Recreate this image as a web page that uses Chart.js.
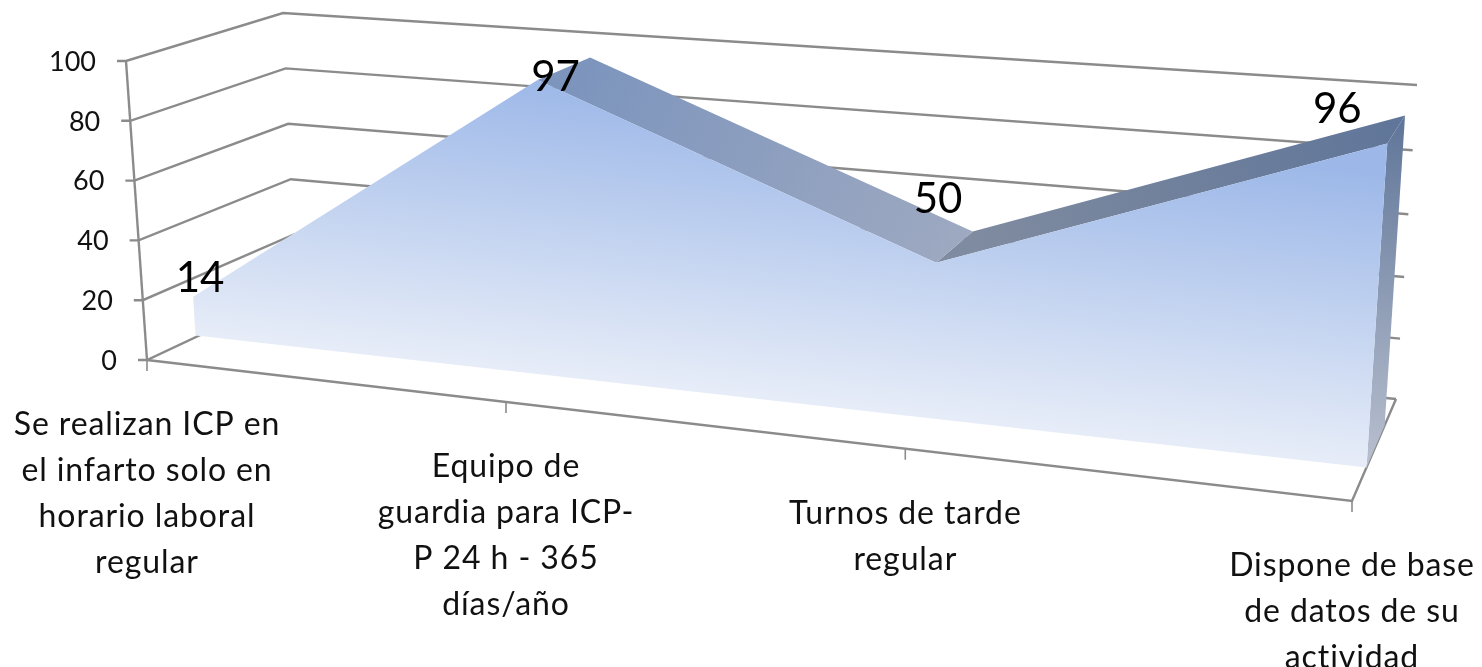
<!DOCTYPE html>
<html><head><meta charset="utf-8">
<style>html,body{margin:0;padding:0;background:#fff}canvas{display:block}</style>
<script src="https://cdn.jsdelivr.net/npm/chart.js@4/dist/chart.umd.min.js"></script>
</head><body><canvas id="c" width="1482" height="667"></canvas>
<script>
const categories = [
  ["Se realizan ICP en","el infarto solo en","horario laboral","regular"],
  ["Equipo de","guardia para ICP-","P 24 h - 365","días/año"],
  ["Turnos de tarde","regular"],
  ["Dispone de base","de datos de su","actividad"]
];
const values = [14, 97, 50, 96];
const yTicks = [0, 20, 40, 60, 80, 100];

const cube = {
  floor: [[147,360],[1352,501],[1396,399],[296,285]],
  wallFloor: [[147,360],[1352,501],[1396,399],[296,290]],
  roof:  [[126,61],[1374,151.2],[1417,85],[283,13]]
};
const depth = {front:0.305, rear:0.72};
const sag = 0.055;
const labelOffsets = [[7,-18],[18,-2],[2,-63],[-50,-34]];
const GRID = '#8b8b8b', FONT = 'Lato, sans-serif';

function makeH(q){
  const [p0,p1,p2,p3]=q;
  const sx=p0[0]-p1[0]+p2[0]-p3[0], sy=p0[1]-p1[1]+p2[1]-p3[1];
  const dx1=p1[0]-p2[0], dy1=p1[1]-p2[1], dx2=p3[0]-p2[0], dy2=p3[1]-p2[1];
  const det=dx1*dy2-dx2*dy1;
  const g=(sx*dy2-dx2*sy)/det, h=(dx1*sy-sx*dy1)/det;
  const a=p1[0]-p0[0]+g*p1[0], b=p3[0]-p0[0]+h*p3[0], d=p1[1]-p0[1]+g*p1[1], e=p3[1]-p0[1]+h*p3[1];
  return (u,w)=>{const k=g*u+h*w+1;return [(a*u+b*w+p0[0])/k,(d*u+e*w+p0[1])/k];};
}
const hFloor=makeH(cube.floor), hWall=makeH(cube.wallFloor), hRoof=makeH(cube.roof);
const bend=(v,c)=>v/(1+c*(1-v));
function project(u,v,w,c=0,hb=hFloor){
  const b=hb(u,w), t=hRoof(u,w), q=bend(v,c);
  return [b[0]+(t[0]-b[0])*q, b[1]+(t[1]-b[1])*q];
}
function poly(ctx,pts,fill){
  ctx.beginPath();pts.forEach((p,i)=>i?ctx.lineTo(p[0],p[1]):ctx.moveTo(p[0],p[1]));ctx.closePath();
  ctx.fillStyle=fill;ctx.fill();
}
function seg(ctx,a,b){ctx.beginPath();ctx.moveTo(a[0],a[1]);ctx.lineTo(b[0],b[1]);ctx.stroke();}
function grad(ctx,x0,y0,x1,y1,c0,c1){
  const g=ctx.createLinearGradient(x0,y0,x1,y1);g.addColorStop(0,c0);g.addColorStop(1,c1);return g;
}

const box3d = {
  id:'box3d',
  beforeDatasetsDraw(chart){
    const ctx=chart.ctx, xs=chart.scales.x, ys=chart.scales.y;
    const U=i=>(xs.getPixelForValue(i)-xs.left)/xs.width;
    const V=val=>(ys.bottom-ys.getPixelForValue(val))/ys.height;
    const n=categories.length;
    ctx.save();
    ctx.strokeStyle=GRID;ctx.lineWidth=2.4;ctx.lineCap='butt';ctx.lineJoin='miter';
    // walls
    ys.ticks.forEach(t=>{
      const v=V(t.value), a=project(0,v,0), b=project(0,v,1,0,hWall), c=project(1,v,1,0.05);
      ctx.beginPath();ctx.moveTo(a[0]-9,a[1]);ctx.lineTo(a[0],a[1]);ctx.lineTo(b[0],b[1]);ctx.lineTo(c[0],c[1]);ctx.stroke();
      ctx.fillStyle='#111';ctx.font='27px '+FONT;ctx.textAlign='right';ctx.textBaseline='middle';
      ctx.fillText(String(t.value),a[0]-30,a[1]+1);
    });
    seg(ctx,project(0,1,0),project(0,0,0));
    // floor
    ctx.beginPath();
    [project(0,0,0),project(1,0,0),project(1,0,1)].forEach((p,i)=>i?ctx.lineTo(p[0],p[1]):ctx.moveTo(p[0],p[1]));
    ctx.stroke();
    // category ticks and labels
    ctx.lineWidth=1.6;
    categories.forEach((lines,i)=>{
      const p=project(U(i),0,0);
      seg(ctx,p,[p[0],p[1]+11]);
      ctx.fillStyle='#111';ctx.font='32px '+FONT;ctx.letterSpacing='0.9px';ctx.textAlign='center';ctx.textBaseline='middle';
      lines.forEach((s,k)=>ctx.fillText(s,p[0],p[1]+64.5+k*46));
      ctx.letterSpacing='0px';
    });
    // area solid
    const F=i=>project(U(i),V(values[i]),depth.front,sag), R=i=>project(U(i),V(values[i]),depth.rear,sag);
    const fb=i=>project(U(i),0,depth.front), rb=i=>project(U(i),0,depth.rear);
    // rising face cat2 -> cat3
    let a=F(2),b=R(2),c=R(3),d=F(3);
    poly(ctx,[a,b,c,d],grad(ctx,b[0],b[1],c[0],c[1],'#7f8ba0','#5f7599'));
    // falling face cat1 -> cat2
    a=F(1);b=R(1);c=R(2);d=F(2);
    poly(ctx,[a,b,c,d],grad(ctx,b[0],b[1],c[0],c[1],'#7d95bd','#9ea9c1'));
    // right end face
    a=F(3);b=R(3);c=rb(3);d=fb(3);
    poly(ctx,[a,b,c,d],grad(ctx,0,b[1],0,d[1],'#5f7599','#b9c0cf'));
    // front face
    const pts=[fb(0)];for(let i=0;i<n;i++)pts.push(F(i));pts.push(fb(n-1));
    const topY=F(1), L=fb(n-1), k=(L[1]-fb(0)[1])/(L[0]-fb(0)[0]);
    // gradient runs perpendicular to the projected base line
    const len=L[1]-topY[1]-k*(L[0]-topY[0]);
    const gx=-k*len/(1+k*k), gy=len/(1+k*k);
    poly(ctx,pts,grad(ctx,topY[0],topY[1],topY[0]+gx,topY[1]+gy,'#9db8e8','#e7edf8'));
    ctx.restore();
  },
  afterDatasetsDraw(chart){
    const ctx=chart.ctx, xs=chart.scales.x, ys=chart.scales.y;
    ctx.save();
    ctx.fillStyle='#000';ctx.font='42px '+FONT;ctx.textAlign='center';ctx.textBaseline='middle';
    values.forEach((val,i)=>{
      const p=project((xs.getPixelForValue(i)-xs.left)/xs.width,(ys.bottom-ys.getPixelForValue(val))/ys.height,depth.front,sag);
      ctx.fillText(String(val),p[0]+labelOffsets[i][0],p[1]+labelOffsets[i][1]);
    });
    ctx.restore();
  }
};

new Chart(document.getElementById('c'),{
  type:'line',
  data:{labels:categories,datasets:[{label:'Serie 1',data:values,showLine:false,pointRadius:0,borderWidth:0}]},
  options:{
    responsive:false,animation:false,
    layout:{padding:{left:126,top:60,bottom:307,right:80}},
    plugins:{legend:{display:false},tooltip:{enabled:false}},
    scales:{
      x:{display:false,offset:false},
      y:{display:false,min:0,max:100,afterBuildTicks(s){s.ticks=yTicks.map(v=>({value:v}));}}
    }
  },
  plugins:[box3d]
});
</script></body></html>
